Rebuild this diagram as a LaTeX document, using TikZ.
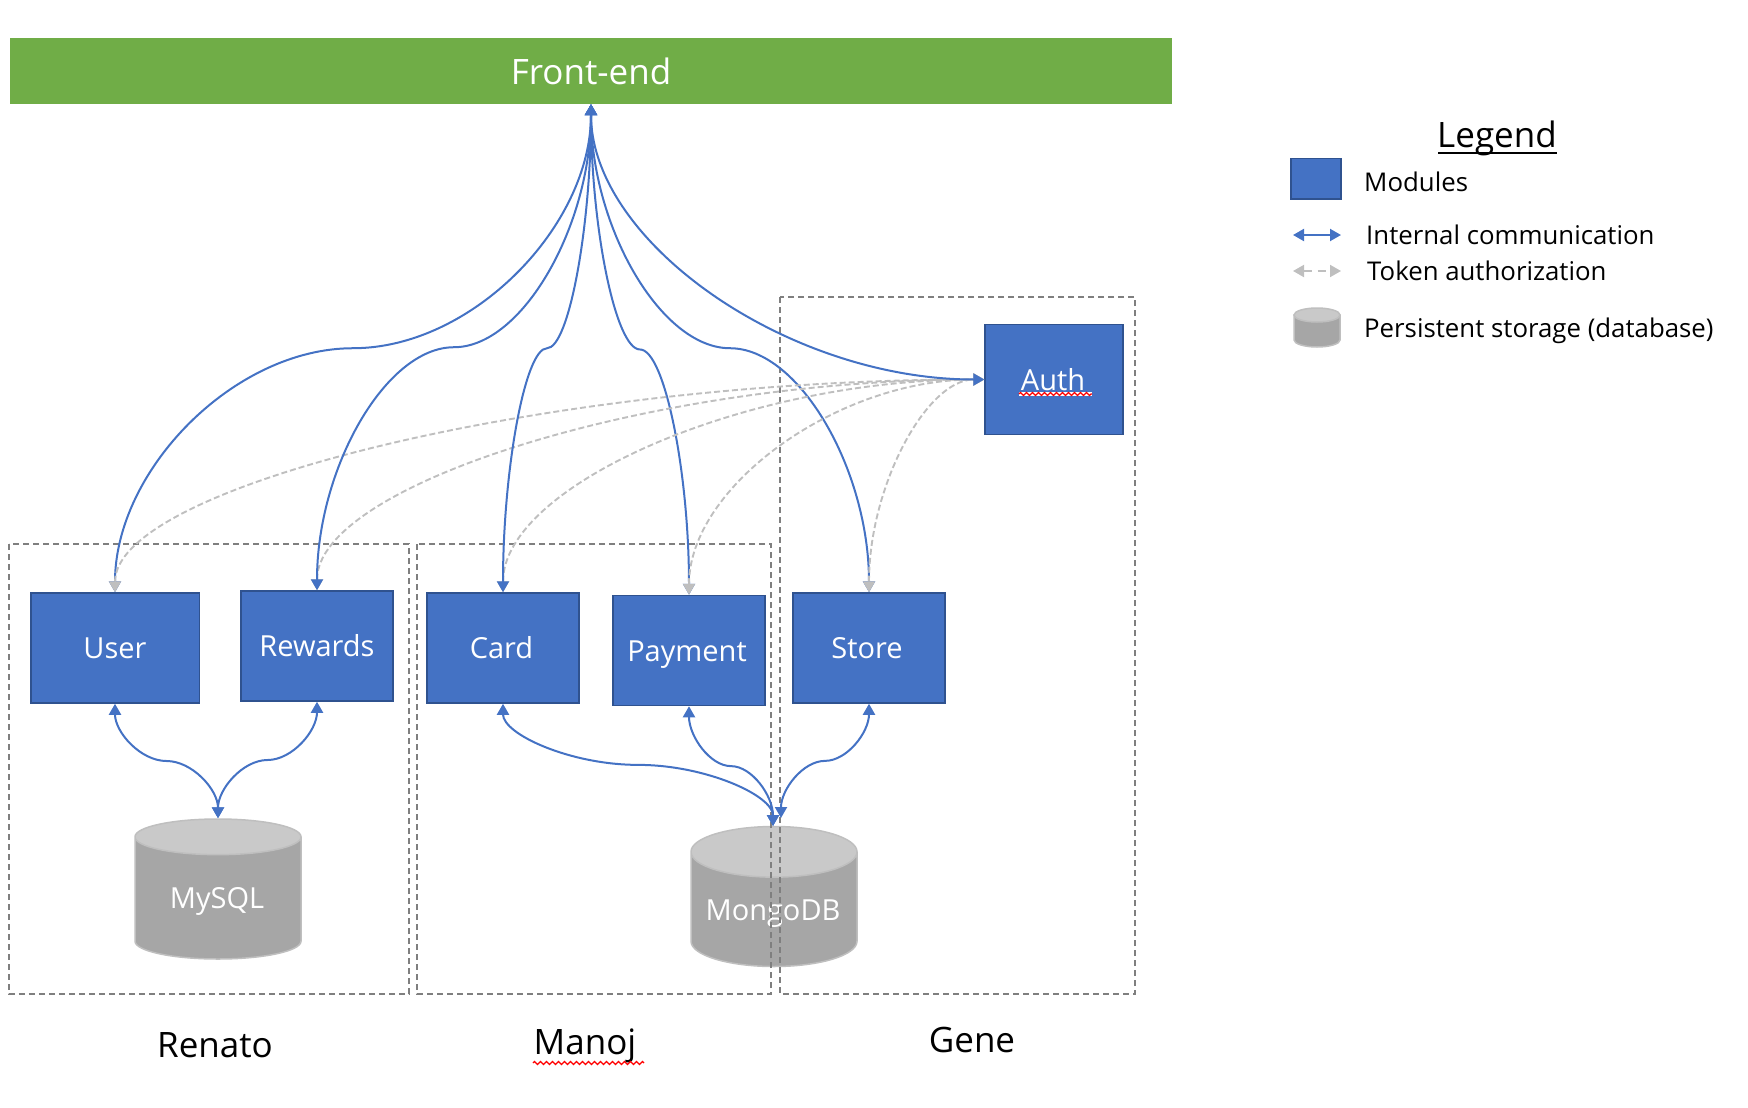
\documentclass[tikz,border=0pt]{standalone}
\usepackage{fontspec}
\setmainfont{Open Sans}
\usetikzlibrary{arrows.meta,calc,shapes.geometric,decorations.pathmorphing}
\definecolor{modfill}{HTML}{4472C4}
\definecolor{modedge}{HTML}{2F528F}
\definecolor{frontgreen}{HTML}{70AD47}
\definecolor{tokengray}{HTML}{BFBFBF}
\definecolor{teamgray}{HTML}{7F7F7F}
\newcommand{\px}[1]{\fontsize{#1}{#1}\selectfont}
\tikzset{
	modbox/.style={draw=modedge, fill=modfill, line width=1.5pt, text=white, inner sep=0, text height=21pt, text depth=0pt, font=\px{29}},
	dbcyl/.style={cylinder, shape border rotate=90, aspect=.37, anchor=shape center, draw=tokengray, line width=1.5pt, cylinder uses custom fill,
		cylinder body fill=black!35, cylinder end fill=black!21, text=white, inner sep=0, text height=21pt, text depth=0pt, minimum width=166pt, minimum height=140pt, font=\px{29}},
	teambox/.style={draw=teamgray, dashed, dash pattern=on 6pt off 4pt, line width=1.5pt},
	team/.style={font=\px{35}, text=black},
	legendtext/.style={font=\px{25.8}, text=black, anchor=west, inner sep=0},
	conn/.style={draw=modfill, line width=2pt, {Triangle[length=11pt,width=12pt]}-{Triangle[length=11pt,width=12pt]}},
	token/.style={draw=tokengray, line width=1.9pt, dash pattern=on 6pt off 3pt, {Triangle[length=11pt,width=12pt]}-{Triangle[length=11pt,width=12pt]}},
	scurve/.style={to path={let \p1=(\tikztostart), \p2=(\tikztotarget) in
		.. controls (\x1,{.75*\y1+.25*\y2}) and ({.75*\x1+.25*\x2},{.5*\y1+.5*\y2}) .. ({.5*\x1+.5*\x2},{.5*\y1+.5*\y2})
		.. controls ({.25*\x1+.75*\x2},{.5*\y1+.5*\y2}) and (\x2,{.25*\y1+.75*\y2}) .. (\tikztotarget)}},
	qcurve/.style={to path={let \p1=(\tikztostart), \p2=(\tikztotarget) in
		.. controls (\x1,{.5*\y1+.5*\y2}) and ({.5*\x1+.5*\x2},\y2) .. (\tikztotarget)}},
	squiggle/.style={decorate, decoration={zigzag, segment length=6pt, amplitude=1.6pt}, draw=red, line width=1.2pt},
	legdbstyle/.style={draw=tokengray, line width=1.5pt}
}
\begin{document}
\begin{tikzpicture}[x=1pt, y=-1pt]
	\useasboundingbox (0, 0) rectangle (1748, 1108);

	% front-end bar
	\node [fill=frontgreen, text=white, inner sep=0, minimum width=1162pt, minimum height=66pt, font=\px{35}] (front) at (591, 71) {Front-end};

	% modules
	\node [modbox, minimum width=168.5pt, minimum height=110pt] (user) at (115, 648) {User};
	\node [modbox, minimum width=152pt, minimum height=110pt] (rewards) at (317, 646) {Rewards};
	\node [modbox, minimum width=152pt, minimum height=110pt] (card) at (503, 648) {Card\kern3pt};
	\node [modbox, minimum width=152pt, minimum height=110pt] (payment) at (689, 650.5) {Payment\kern4pt};
	\node [modbox, minimum width=152pt, minimum height=110pt] (store) at (869, 648) {Store\kern4pt};
	\node [modbox, minimum width=138pt, minimum height=110pt] (auth) at (1054, 379.5) {Auth\kern2pt};

	% databases
	\node [dbcyl] (mysql) at (218, 889) {MySQL\kern2pt};
	\node [dbcyl] (mongo) at (774, 896.5) {MongoDB\kern2pt};
	\coordinate (mongoleft) at (773, 826);
	\coordinate (mongoright) at (781, 818);

	% team areas
	\draw [teambox] (9, 544) rectangle (409, 994);
	\draw [teambox] (417, 544) rectangle (771, 994);
	\draw [teambox] (780, 297) rectangle (1135, 994);
	\node [team] (renato) at (215, 1045) {Renato};
	\node [team] (manoj) at (585, 1046) {Manoj};
	\node [team] (gene) at (972, 1040) {Gene};

	% front-end to modules, tokens over some of them
	\draw [conn] (front.south) to [scurve] (user.north);
	\draw [conn] (front.south) to [scurve] (payment.north);
	\draw [conn] (front.south) to [scurve] (store.north);
	\draw [token] (user.north) to [qcurve] (auth.west);
	\draw [token] (rewards.north) to [qcurve] (auth.west);
	\draw [token] (card.north) to [qcurve] (auth.west);
	\draw [token] (payment.north) to [qcurve] (auth.west);
	\draw [token] (store.north) to [qcurve] (auth.west);
	\draw [conn] (front.south) to [scurve] (rewards.north);
	\draw [conn] (front.south) to [scurve] (card.north);
	\draw [conn] (front.south) to [qcurve] (auth.west);

	% modules to databases
	\draw [conn] (user.south) to [scurve] (mysql.north);
	\draw [conn] (rewards.south) to [scurve] (mysql.north);
	\draw [conn] (card.south) to [scurve] (mongoleft);
	\draw [conn] (payment.south) to [scurve] (mongoleft);
	\draw [conn] (store.south) to [scurve] (mongoright);

	% spelling marks
	\coordinate (authsqa) at (1019, 394);
	\coordinate (authsqb) at (1092, 394);
	\draw [white, line width=4pt] (authsqa) -- (authsqb);
	\draw [squiggle] (authsqa) -- (authsqb);
	\coordinate (manojsqa) at (533, 1063);
	\coordinate (manojsqb) at (644, 1063);
	\draw [squiggle] (manojsqa) -- (manojsqb);

	% legend
	\node [team, inner sep=0] (legendtitle) at (1497, 138) {Legend};
	\coordinate (legrulea) at (1438, 153);
	\coordinate (legruleb) at (1557, 153);
	\draw [line width=2pt] (legrulea) -- (legruleb);
	\node [modbox, minimum width=50pt, minimum height=40.5pt] (legmod) at (1316, 178.5) {};
	\node [legendtext] (legmodtext) at (1364, 182) {Modules};
	\coordinate (legconna) at (1293, 235);
	\coordinate (legconnb) at (1341, 235);
	\draw [conn] (legconna) -- (legconnb);
	\node [legendtext] (legconntext) at (1366, 235) {Internal communication};
	\coordinate (legtokena) at (1293, 271);
	\coordinate (legtokenb) at (1341, 271);
	\draw [token, dash pattern=on 8pt off 6pt] (legtokena) -- (legtokenb);
	\node [legendtext] (legtokentext) at (1367, 271) {Token authorization};
	\filldraw [legdbstyle, fill=black!35] (1294, 315) -- (1294, 340) arc [start angle=180, end angle=360, x radius=23pt, y radius=7pt] -- (1340, 315) -- cycle;
	\filldraw [legdbstyle, fill=black!21] (1317, 315) ellipse [x radius=23pt, y radius=7pt];
	\node [legendtext] (legdbtext) at (1364, 331) {Persistent storage (database)};
\end{tikzpicture}
\end{document}
